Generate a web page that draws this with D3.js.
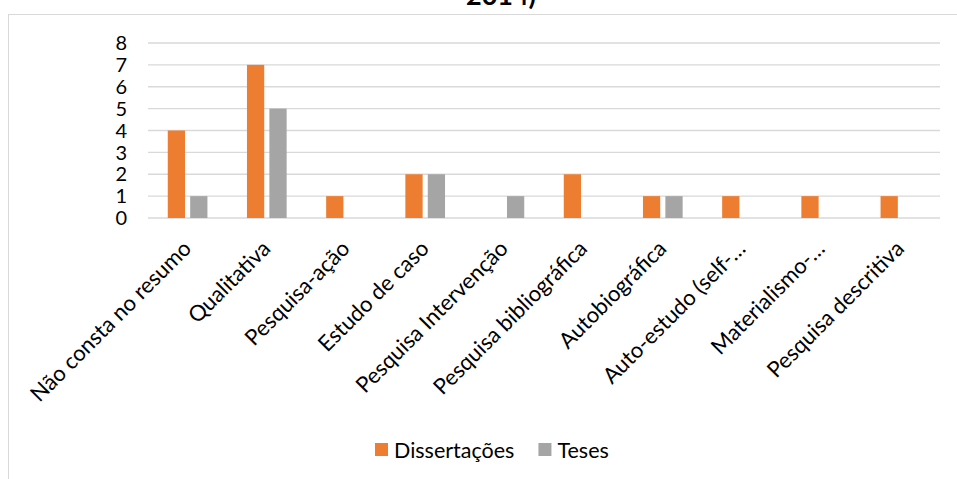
<!DOCTYPE html>
<html>
<head>
<meta charset="utf-8">
<script src="https://cdn.jsdelivr.net/npm/d3@7"></script>
<style>
  body { margin: 0; background: #fff; }
  text { font-family: Lato, "Open Sans", sans-serif; fill: #000; }
</style>
</head>
<body>
<svg id="chart" width="957" height="479"></svg>
<script>
// chart data
const categories = [
    "Não consta no resumo", "Qualitativa", "Pesquisa-ação", "Estudo de caso",
    "Pesquisa Intervenção", "Pesquisa bibliográfica", "Autobiográfica",
    "Auto-estudo (self-…", "Materialismo-…", "Pesquisa descritiva"
];
const dissertacoes = [4, 7, 1, 2, 0, 2, 1, 1, 1, 1];
const teses        = [1, 5, 0, 2, 1, 0, 1, 0, 0, 0];
const seriesNames  = ["Dissertações", "Teses"];
const yTicks       = [0, 1, 2, 3, 4, 5, 6, 7, 8];

const colors = { "Dissertações": "#ED7D31", "Teses": "#A5A5A5" };

const svg = d3.select("#chart");
const margin = { top: 43, left: 148, right: 17, bottom: 261 };
const width = 957, height = 479;

// outer chart border (only left and top edges fall inside the picture)
svg.append("rect")
    .attr("x", 8.5).attr("y", 14.5)
    .attr("width", 1000).attr("height", 1000)
    .attr("fill", "none")
    .attr("stroke", "#D9D9D9");

// title, mostly cropped off the top as in the source
svg.append("text")
    .attr("x", 501).attr("y", 5)
    .attr("text-anchor", "middle")
    .attr("font-size", "27px")
    .attr("font-weight", "bold")
    .text("2014)");

const xScale = d3.scaleBand()
    .domain(categories)
    .range([margin.left, width - margin.right]);

const yScale = d3.scaleLinear()
    .domain([0, 8])
    .range([height - margin.bottom, margin.top]);

// gridlines
svg.append("g")
    .selectAll("line")
    .data(yTicks)
    .join("line")
    .attr("x1", margin.left).attr("x2", width - margin.right)
    .attr("y1", d => yScale(d)).attr("y2", d => yScale(d))
    .attr("stroke", "#D9D9D9")
    .attr("stroke-width", 1.3);

// y axis labels
svg.append("g")
    .selectAll("text")
    .data(yTicks)
    .join("text")
    .attr("x", 127)
    .attr("y", d => yScale(d))
    .attr("dy", "0.36em")
    .attr("text-anchor", "end")
    .attr("font-size", "20px")
    .text(d => d);

// bars
const band = xScale.bandwidth();
const barW = band * 0.218;
const barGap = band * 0.065;
const offsets = [-(barGap / 2) - barW, barGap / 2];
const values = [dissertacoes, teses];

seriesNames.forEach((name, s) => {
    svg.append("g")
        .selectAll("rect")
        .data(categories.map((c, i) => ({ c, v: values[s][i] })))
        .join("rect")
        .attr("x", d => xScale(d.c) + band / 2 + offsets[s])
        .attr("y", d => yScale(d.v))
        .attr("width", barW)
        .attr("height", d => yScale(0) - yScale(d.v))
        .attr("fill", colors[name]);
});

// rotated category labels
svg.append("g")
    .selectAll("text")
    .data(categories)
    .join("text")
    .attr("transform", d => `translate(${xScale(d) + band / 2 + 5},${yScale(0) + 32}) rotate(-45)`)
    .attr("text-anchor", "end")
    .attr("font-size", "22px")
    .text(d => d);

// legend
const legend = svg.append("g").attr("transform", "translate(375,443)");
let lx = 0;
seriesNames.forEach(name => {
    legend.append("rect")
        .attr("x", lx).attr("y", 0)
        .attr("width", 13).attr("height", 13)
        .attr("fill", colors[name]);
    const t = legend.append("text")
        .attr("x", lx + 19).attr("y", 7)
        .attr("dy", "0.36em")
        .attr("font-size", "21.5px")
        .text(name);
    lx += 19 + t.node().getComputedTextLength() + 24;
});
</script>
</body>
</html>
